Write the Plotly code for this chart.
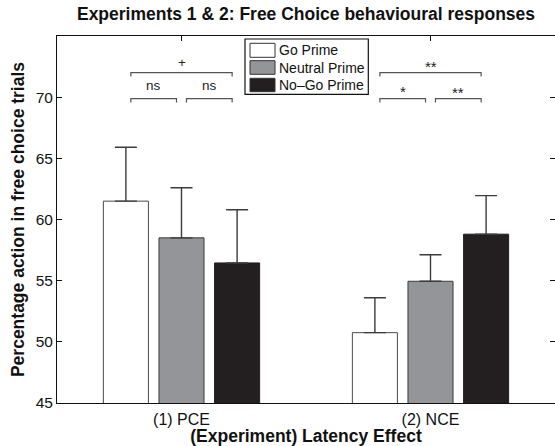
import plotly.graph_objects as go

# ---------------- data ----------------
groups = ["(1) PCE", "(2) NCE"]
group_pos = [1, 2]
series_names = ["Go Prime", "Neutral Prime", "No\u2013Go Prime"]
go_prime = [61.5, 50.75]
go_prime_err = [4.4, 2.85]
neutral_prime = [58.5, 54.95]
neutral_prime_err = [4.1, 2.17]
nogo_prime = [56.45, 58.8]
nogo_prime_err = [4.35, 3.15]
y_ticks = [45, 50, 55, 60, 65, 70]
# significance labels per group: [big bracket (Go vs No-Go), small left (Go vs Neutral), small right (Neutral vs No-Go)]
sig_labels = [["+", "ns", "ns"], ["**", "*", "**"]]

values = [go_prime, neutral_prime, nogo_prime]
errors = [go_prime_err, neutral_prime_err, nogo_prime_err]
colors = ["#ffffff", "#939598", "#231f20"]
edge_colors = ["#4a4a4a", "#3a3a3a", "#231f20"]

W, H = 555, 446
ML, MR, MT, MB = 57, 0, 36, 43
BARGAP = 0.33
BARGROUPGAP = 0.19
slot = (1 - BARGAP) / 3

fig = go.Figure()
for name, vals, errs, c, ec in zip(series_names, values, errors, colors, edge_colors):
    fig.add_trace(go.Bar(
        x=group_pos, y=vals, name=name, showlegend=False,
        marker=dict(color=c, line=dict(color=ec, width=1)),
        error_y=dict(type="data", array=errs, arrayminus=[0] * len(errs), symmetric=False,
                     color="#3c3c3c", thickness=1.4, width=11),
    ))

pw = W - ML - MR
ph = H - MT - MB


def px2paper_x(px):
    return (px - ML) / pw


def px2paper_y(py):
    return (H - MB - py) / ph


shapes = []
annotations = []

# significance brackets (data coordinates)
big_y, small_y, drop = 72.0, 69.88, 0.32
inset = 0.02
label_y_offsets = {"+": 0.8, "ns": 1.05, "*": 0.55, "**": 0.5}
for gi, gp in enumerate(group_pos):
    centers = [gp + (k - 1) * slot for k in range(3)]
    spans = [(centers[0] + inset, centers[2] - inset, big_y),
             (centers[0] + inset, centers[1] - inset, small_y),
             (centers[1] + inset, centers[2] - inset, small_y)]
    for (x0, x1, yy), lab in zip(spans, sig_labels[gi]):
        shapes.append(dict(type="path", xref="x", yref="y",
                           path=f"M {x0},{yy - drop} L {x0},{yy} L {x1},{yy} L {x1},{yy - drop}",
                           line=dict(color="#555555", width=1.2)))
        annotations.append(dict(x=(x0 + x1) / 2, y=yy + label_y_offsets[lab], xref="x", yref="y",
                                text=lab, showarrow=False, yanchor="middle",
                                font=dict(size=13.5 if lab not in ("*", "**") else 15, color="#222222")))

# manual legend (matches the reference's wide swatches)
shapes.append(dict(type="rect", xref="paper", yref="paper",
                   x0=px2paper_x(245), x1=px2paper_x(368.3), y0=px2paper_y(94.3), y1=px2paper_y(39),
                   line=dict(color="#111111", width=1.2), fillcolor="white"))
rows = [(43.3, 57.3), (60.7, 74.3), (78.3, 91.7)]
for (t, b), name, c, ec in zip(rows, series_names, colors, edge_colors):
    shapes.append(dict(type="rect", xref="paper", yref="paper",
                       x0=px2paper_x(250), x1=px2paper_x(275), y0=px2paper_y(b), y1=px2paper_y(t),
                       line=dict(color="#333333", width=1), fillcolor=c))
    annotations.append(dict(x=px2paper_x(277), y=px2paper_y((t + b) / 2), xref="paper", yref="paper",
                            text=name, showarrow=False, xanchor="left", yanchor="middle",
                            font=dict(size=14, color="#111111")))

fig.update_layout(
    width=W, height=H,
    margin=dict(l=ML, r=MR, t=MT, b=MB, autoexpand=False),
    paper_bgcolor="white", plot_bgcolor="white",
    barmode="group", bargap=BARGAP, bargroupgap=BARGROUPGAP,
    font=dict(family="Liberation Sans, Arial, sans-serif", color="#111111"),
    title=dict(text="<b>Experiments 1 & 2: Free Choice behavioural responses</b>",
               x=0.5, xref="paper", xanchor="center",
               y=1 - 14 / H, yref="container", yanchor="middle",
               font=dict(size=17.5, color="#111111")),
    shapes=shapes, annotations=annotations,
    showlegend=False,
)
fig.update_xaxes(
    range=[0.5, 2.5], tickmode="array", tickvals=group_pos, ticktext=groups,
    ticks="inside", ticklen=5, tickcolor="#111111", showline=True, linecolor="#111111", linewidth=1,
    mirror="ticks", showgrid=False, zeroline=False, layer="below traces",
    tickfont=dict(size=16), ticklabelstandoff=2,
    title=dict(text="<b>(Experiment) Latency Effect</b>", font=dict(size=17.5), standoff=0),
    automargin=False,
)
fig.update_yaxes(
    range=[45, 75], tickmode="array", tickvals=y_ticks,
    ticks="inside", ticklen=5, tickcolor="#111111", showline=True, linecolor="#111111", linewidth=1,
    mirror="ticks", showgrid=False, zeroline=False,
    tickfont=dict(size=15.5),
    title=dict(text="<b>Percentage action in free choice trials</b>", font=dict(size=17.5), standoff=6),
    automargin=False,
)

fig.write_html("out.html")
